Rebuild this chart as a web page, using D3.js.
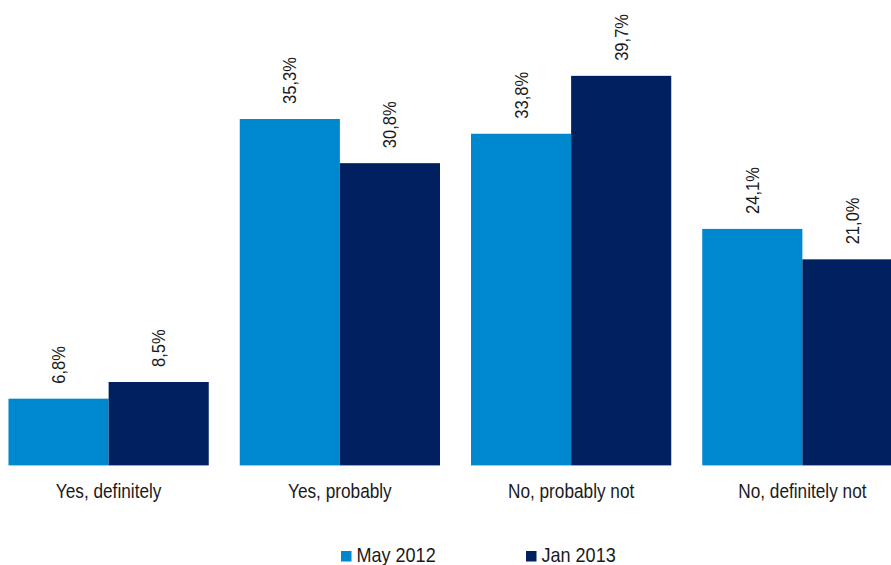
<!DOCTYPE html>
<html>
<head>
<meta charset="utf-8">
<script src="https://cdn.jsdelivr.net/npm/d3@7/dist/d3.min.js"></script>
<style>
  html, body { margin: 0; padding: 0; background: #ffffff; overflow: hidden; }
  svg { display: block; font-family: "Liberation Sans", Arial, sans-serif; }
</style>
</head>
<body>
<svg id="chart" width="891" height="565"></svg>
<script>
// Survey answers and the share of respondents per wave
const categories = ["Yes, definitely", "Yes, probably", "No, probably not", "No, definitely not"];
const seriesNames = ["May 2012", "Jan 2013"];
const may2012 = [6.8, 35.3, 33.8, 24.1];
const jan2013 = [8.5, 30.8, 39.7, 21.0];
const seriesColors = ["#0088ce", "#002060"];

const series = [may2012, jan2013];
const rows = categories.map((c, i) => ({
  category: c,
  values: seriesNames.map((s, j) => ({ series: s, index: j, value: series[j][i] }))
}));

const svg = d3.select("#chart");
const baseY = 465.4;
const textColor = "#1a1a1a";

// Group positions; the plot runs slightly past the right edge of the frame
const x0 = d3.scaleBand()
  .domain(categories)
  .range([-7, 918])
  .paddingInner(0.134)
  .paddingOuter(0.067);

const x1 = d3.scaleBand()
  .domain(seriesNames)
  .range([0, x0.bandwidth()])
  .padding(0);

const y = d3.scaleLinear()
  .domain([0, 40])
  .range([baseY, baseY - 392.5]);

const fmt = v => d3.format(".1f")(v).replace(".", ",") + "%";

const groups = svg.append("g")
  .selectAll("g")
  .data(rows)
  .join("g")
  .attr("transform", d => `translate(${x0(d.category)},0)`);

groups.selectAll("rect")
  .data(d => d.values)
  .join("rect")
  .attr("x", d => x1(d.series))
  .attr("y", d => y(d.value))
  .attr("width", x1.bandwidth())
  .attr("height", d => y(0) - y(d.value))
  .attr("fill", d => seriesColors[d.index]);

// Rotated value labels above each bar
groups.selectAll("text.value")
  .data(d => d.values)
  .join("text")
  .attr("class", "value")
  .attr("transform", d => `translate(${x1(d.series) + x1.bandwidth() / 2},${y(d.value) - 15}) rotate(-90) scale(0.92,1)`)
  .attr("text-anchor", "start")
  .attr("dy", "0.36em")
  .attr("font-size", 18)
  .attr("fill", textColor)
  .text(d => fmt(d.value));

// Category labels (narrow lettering)
svg.append("g")
  .selectAll("text")
  .data(categories)
  .join("text")
  .attr("transform", d => `translate(${x0(d) + x0.bandwidth() / 2},497.8) scale(0.84,1)`)
  .attr("text-anchor", "middle")
  .attr("font-size", 20.5)
  .attr("fill", textColor)
  .text(d => d);

// Legend
const legendX = [341, 526];
const legend = svg.append("g")
  .selectAll("g")
  .data(seriesNames)
  .join("g")
  .attr("transform", (d, i) => `translate(${legendX[i]},551)`);

legend.append("rect")
  .attr("width", 10.5)
  .attr("height", 10.5)
  .attr("fill", (d, i) => seriesColors[i]);

legend.append("text")
  .attr("transform", "translate(15.5,10.6) scale(0.88,1)")
  .attr("font-size", 20.5)
  .attr("fill", textColor)
  .text(d => d);
</script>
</body>
</html>
